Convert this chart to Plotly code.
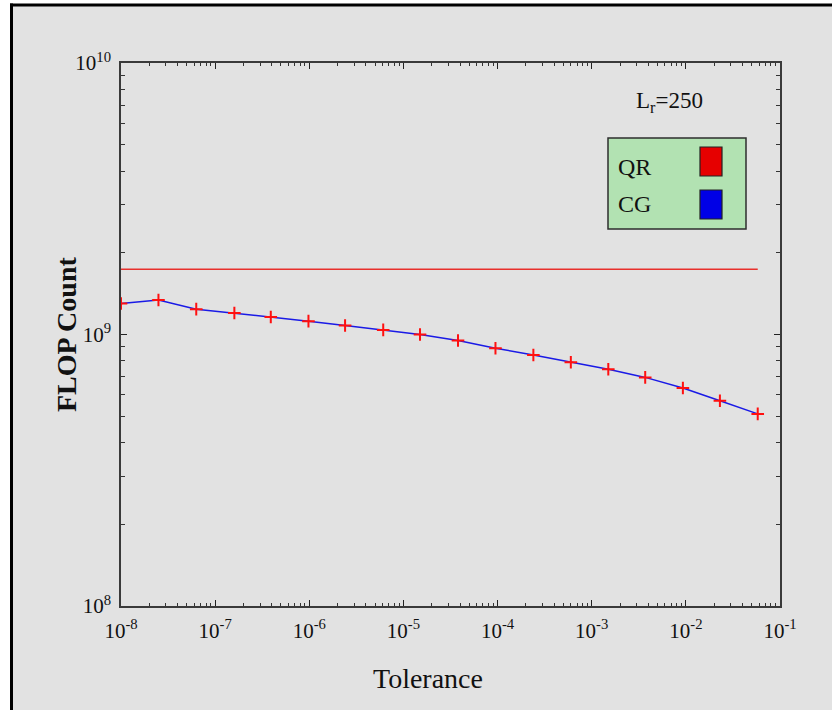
import plotly.graph_objects as go

# Solver tolerance and FLOP counts (Lr = 250)
tolerance = [1.0e-8, 2.5e-8, 6.3e-8, 1.6e-7, 3.9e-7, 9.8e-7, 2.4e-6, 6.1e-6, 1.5e-5,
             3.8e-5, 9.5e-5, 2.4e-4, 6.0e-4, 1.5e-3, 3.7e-3, 9.3e-3, 2.3e-2, 5.8e-2]
cg_flops = [1.30e9, 1.34e9, 1.24e9, 1.20e9, 1.16e9, 1.12e9, 1.08e9, 1.04e9, 1.00e9,
            0.95e9, 0.89e9, 0.84e9, 0.79e9, 0.745e9, 0.695e9, 0.635e9, 0.57e9, 0.51e9]
qr_flops = 1.74e9

x_ticks = [1e-8, 1e-7, 1e-6, 1e-5, 1e-4, 1e-3, 1e-2, 1e-1]
x_labels = ["10<sup>-8</sup>", "10<sup>-7</sup>", "10<sup>-6</sup>", "10<sup>-5</sup>",
            "10<sup>-4</sup>", "10<sup>-3</sup>", "10<sup>-2</sup>", "10<sup>-1</sup>"]
y_ticks = [1e8, 1e9, 1e10]
y_labels = ["10<sup>8</sup>", "10<sup>9</sup>", "10<sup>10</sup>"]

W, H = 832, 710
L, R, T, B = 121, 52, 63, 104
PW, PH = W - L - R, H - T - B


def px(x):
    return (x - L) / PW


def py(y):
    return (H - B - y) / PH


x_minor = [m * 10.0 ** k for k in range(-8, -1) for m in range(2, 10)]
y_minor = [m * 10.0 ** k for k in range(8, 10) for m in range(2, 10)]

SERIF = "Liberation Serif, Times New Roman, serif"
BG = "#E2E2E2"

fig = go.Figure()

fig.add_trace(go.Scatter(
    x=[tolerance[0], tolerance[-1]], y=[qr_flops, qr_flops],
    mode="lines", line=dict(color="#E8302C", width=1.6), showlegend=False,
))
fig.add_trace(go.Scatter(
    x=tolerance, y=cg_flops, mode="lines+markers",
    line=dict(color="#1A1AE6", width=1.5),
    marker=dict(symbol="cross-thin", size=9, color="#FF0000",
                line=dict(color="#FF1010", width=2)),
    showlegend=False,
))

axis_common = dict(
    showline=True, linecolor="#3A3A3A", linewidth=1.5, mirror="ticks",
    ticks="inside", ticklen=6, tickwidth=1.2, tickcolor="#222",
    showgrid=False, zeroline=False,
    tickfont=dict(family=SERIF, size=21, color="#111"),
)

fig.update_xaxes(
    type="log", range=[-8, -1], tickmode="array", tickvals=x_ticks, ticktext=x_labels,
    ticklabelstandoff=5,
    minor=dict(tickmode="array", tickvals=x_minor, ticks="inside", ticklen=3,
               tickwidth=1, tickcolor="#333", showgrid=False),
    **axis_common,
)
fig.update_yaxes(
    type="log", range=[8, 10], tickmode="array", tickvals=y_ticks, ticktext=y_labels,
    ticklabelstandoff=4,
    minor=dict(tickmode="array", tickvals=y_minor, ticks="inside", ticklen=4,
               tickwidth=1, tickcolor="#333", showgrid=False),
    **axis_common,
)

shapes = [
    # gray panel with black top/left edge
    dict(type="rect", xref="paper", yref="paper", x0=px(11), x1=px(840), y0=py(720), y1=py(4),
         fillcolor=BG, line=dict(width=0), layer="below"),
    dict(type="line", xref="paper", yref="paper", x0=px(11.5), x1=px(11.5), y0=py(720), y1=py(3.5),
         line=dict(color="#000", width=3)),
    dict(type="line", xref="paper", yref="paper", x0=px(10), x1=px(840), y0=py(5), y1=py(5),
         line=dict(color="#000", width=3)),
    # legend box and swatches
    dict(type="rect", xref="paper", yref="paper", x0=px(608), x1=px(746), y0=py(229), y1=py(138),
         fillcolor="#B2E2B2", line=dict(color="#2E2E2E", width=1.5)),
    dict(type="rect", xref="paper", yref="paper", x0=px(700), x1=px(722), y0=py(176), y1=py(147),
         fillcolor="#E60000", line=dict(color="#222", width=1.2)),
    dict(type="rect", xref="paper", yref="paper", x0=px(700), x1=px(722), y0=py(219), y1=py(190),
         fillcolor="#0000E6", line=dict(color="#222", width=1.2)),
]

annotations = [
    dict(text="QR", x=px(616), y=py(167), xanchor="left", yanchor="middle",
         font=dict(family=SERIF, size=24, color="#111")),
    dict(text="CG", x=px(616), y=py(204), xanchor="left", yanchor="middle",
         font=dict(family=SERIF, size=24, color="#111")),
    dict(text="L<sub>r</sub>=250", x=px(669), y=py(102), xanchor="center", yanchor="middle",
         font=dict(family=SERIF, size=23, color="#111")),
    dict(text="Tolerance", x=px(428), y=py(678), xanchor="center", yanchor="middle",
         font=dict(family=SERIF, size=28, color="#111")),
    dict(text="<b>FLOP Count</b>", x=px(66), y=py(335), xanchor="center", yanchor="middle",
         textangle=-90, font=dict(family=SERIF, size=28, color="#111")),
]
for a in annotations:
    a.update(xref="paper", yref="paper", showarrow=False)

fig.update_layout(
    width=W, height=H, margin=dict(l=L, r=R, t=T, b=B),
    paper_bgcolor="white", plot_bgcolor="rgba(0,0,0,0)",
    shapes=shapes, annotations=annotations, showlegend=False,
)

fig.write_html("out.html")
